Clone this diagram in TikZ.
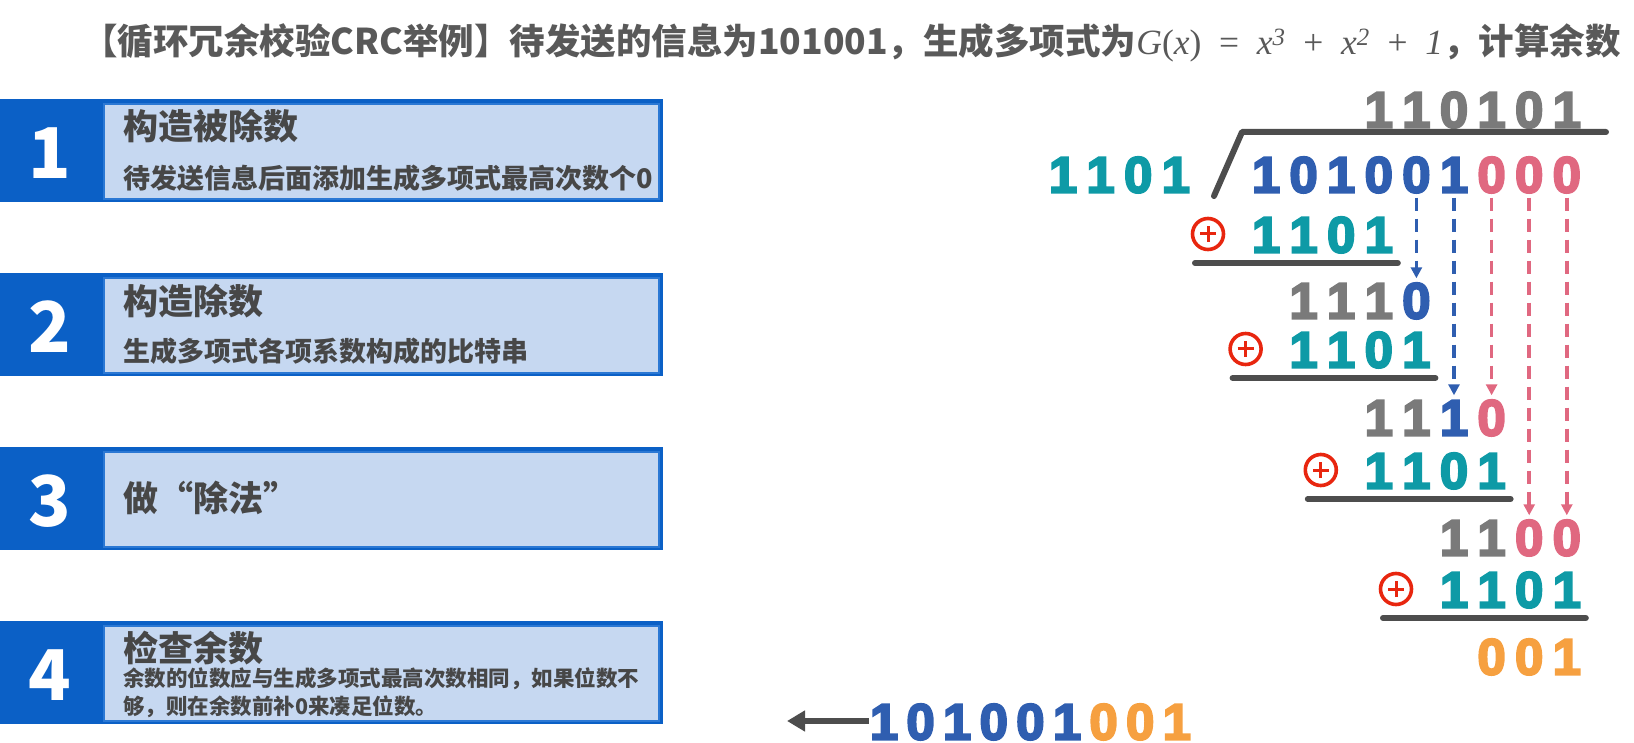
\documentclass[tikz,border=0pt]{standalone}
\usepackage{fontspec}
\setmainfont{Liberation Sans}
\newfontfamily\cjk{Noto Sans CJK SC}
\newfontfamily\tms{Liberation Serif}
\newfontfamily\digitfont{Liberation Sans}[UprightFont=* Bold, FakeBold=4]
\usetikzlibrary{arrows.meta}

\definecolor{boxblue}{HTML}{0B60C6}
\definecolor{paneblue}{HTML}{C6D8F1}
\definecolor{paneedge}{HTML}{2B78D4}
\definecolor{titlegray}{HTML}{595959}
\definecolor{textgray}{HTML}{474747}
\definecolor{dteal}{HTML}{0E9AA6}
\definecolor{dblue}{HTML}{2F5EB0}
\definecolor{dpink}{HTML}{E06880}
\definecolor{dgray}{HTML}{7A7A7A}
\definecolor{dorange}{HTML}{F6A040}
\definecolor{xorred}{HTML}{E8260F}
\definecolor{bargray}{HTML}{4D4D4D}

\tikzset{
  bluebar/.style={fill=boxblue, minimum width=663pt, minimum height=103pt, anchor=north west, inner sep=0},
  pane/.style={fill=paneblue, draw=paneedge, line width=2pt, minimum width=555pt, minimum height=95pt, anchor=north west, inner sep=0},
  stepnum/.style={text=white, inner sep=0, text height=51pt, text depth=0pt, font=\cjk\bfseries\fontsize{70}{70}\selectfont},
  heading/.style={anchor=base west, inner sep=0, text=textgray, font=\cjk\bfseries\fontsize{35}{35}\selectfont},
  subline/.style={anchor=base west, inner sep=0, text=textgray, font=\cjk\bfseries\fontsize{27}{27}\selectfont},
  smallline/.style={subline, font=\cjk\bfseries\fontsize{21.5}{21.5}\selectfont},
  digit/.style={inner sep=1pt, text height=37pt, text depth=0pt, font=\digitfont\fontsize{51}{51}\selectfont},
  xorsym/.style={circle, draw=xorred, line width=3.6pt, minimum size=31pt, inner sep=0,
    path picture={\draw[xorred, line width=3pt] (path picture bounding box.center) ++(-8pt,0pt) -- ++(16pt,0pt)
      (path picture bounding box.center) ++(0pt,-8pt) -- ++(0pt,16pt);}},
  barline/.style={bargray, line width=6pt, line cap=round, line join=round},
  bluedash/.style={dblue, line width=3.5pt, dash pattern=on 13pt off 8pt, -{Triangle[length=11pt,width=11pt]}, shorten <=4pt, shorten >=2pt},
  pinkdash/.style={bluedash, dpink},
  outarrow/.style={bargray, line width=6pt, -{Triangle[length=18pt,width=20pt]}},
}

\begin{document}
\begin{tikzpicture}[x=1pt, y=-1pt]
\useasboundingbox (0,0) rectangle (1634,743);

% title line
\node[anchor=base west, inner sep=0, text=titlegray, font=\cjk\bfseries\fontsize{35.5}{35.5}\selectfont] (title) at (82,55)
  {【循环冗余校验CRC举例】待发送的信息为101001，生成多项式为{\tms\mdseries\textit{G}(\textit{x})\hspace{0.5em}=\hspace{0.5em}\textit{x}\textsuperscript{\itshape 3}\hspace{0.5em}+\hspace{0.5em}\textit{x}\textsuperscript{\itshape 2}\hspace{0.5em}+\hspace{0.5em}\textit{1}}，计算余数};

% the four steps
\foreach \n/\top in {1/99, 2/273, 3/447, 4/621}{
  \node[bluebar] (bar\n) at (0,\top) {};
  \node[pane] (pane\n) at (103,\top+4) {};
  \node[stepnum] (num\n) at (50,\top+54) {\n};
}
\node[heading] (h1) at (123,140) {构造被除数};
\node[subline] (s1) at (123,189) {待发送信息后面添加生成多项式最高次数个0};
\node[heading] (h2) at (123,315) {构造除数};
\node[subline] (s2) at (123,362) {生成多项式各项系数构成的比特串};
\node[heading] (h3) at (123,511) {做“除法”};
\node[heading] (h4) at (123,661) {检查余数};
\node[smallline] (s4a) at (123,686) {余数的位数应与生成多项式最高次数相同，如果位数不};
\node[smallline] (s4b) at (123,714) {够，则在余数前补0来凑足位数。};

% quotient, divisor, dividend
\foreach \k/\d in {4/1, 5/1, 6/0, 7/1, 8/0, 9/1}
  \node[digit, text=dgray] (q\k) at ({1228.4+37.6*\k},109) {\d};
\foreach \k/\d in {1/1, 2/1, 3/0, 4/1}
  \node[digit, text=dteal] (ds\k) at ({1025.4+37.6*\k},174) {\d};
\foreach \k/\d/\c in {1/1/dblue, 2/0/dblue, 3/1/dblue, 4/0/dblue, 5/0/dblue, 6/1/dblue, 7/0/dpink, 8/0/dpink, 9/0/dpink}
  \node[digit, text=\c] (dv\k) at ({1228.4+37.6*\k},174) {\d};
\draw[barline] (1214,196) -- (1242,132) -- (1606,132);

% xor steps
\foreach \r/\s/\y in {a/0/234, c/1/349, e/3/470, g/5/589}{
  \foreach \k/\d in {1/1, 2/1, 3/0, 4/1}
    \node[digit, text=dteal] (\r\k) at ({1228.4+37.6*(\s+\k)},\y) {\d};
  \node[xorsym] (x\r) at ([xshift=-58pt]\r1.center) {};
  \draw[barline] ([shift={(-71,29)}]\r1.center) -- ([shift={(19,29)}]\r4.center);
}
\foreach \k/\d/\c in {1/1/dgray, 2/1/dgray, 3/1/dgray, 4/0/dblue}
  \node[digit, text=\c] (b\k) at ({1228.4+37.6*(1+\k)},300) {\d};
\foreach \k/\d/\c in {1/1/dgray, 2/1/dgray, 3/1/dblue, 4/0/dpink}
  \node[digit, text=\c] (d\k) at ({1228.4+37.6*(3+\k)},417) {\d};
\foreach \k/\d/\c in {1/1/dgray, 2/1/dgray, 3/0/dpink, 4/0/dpink}
  \node[digit, text=\c] (f\k) at ({1228.4+37.6*(5+\k)},537) {\d};
\foreach \k/\d in {1/0, 2/0, 3/1}
  \node[digit, text=dorange] (h\k) at ({1228.4+37.6*(6+\k)},656) {\d};

% bring-down arrows
\draw[bluedash] (dv5) -- (b4);
\draw[bluedash] (dv6) -- (d3);
\draw[pinkdash] (dv7) -- (d4);
\draw[pinkdash] (dv8) -- (f3);
\draw[pinkdash] (dv9) -- (f4);

% frame to send
\foreach \k/\d/\c in {1/1/dblue, 2/0/dblue, 3/1/dblue, 4/0/dblue, 5/0/dblue, 6/1/dblue, 7/0/dorange, 8/0/dorange, 9/1/dorange}
  \node[digit, text=\c] (res\k) at ({847.4+36.6*\k},721) {\d};
\coordinate (out) at (787,721);
\draw[outarrow] (res1) -- (out);
\end{tikzpicture}
\end{document}
